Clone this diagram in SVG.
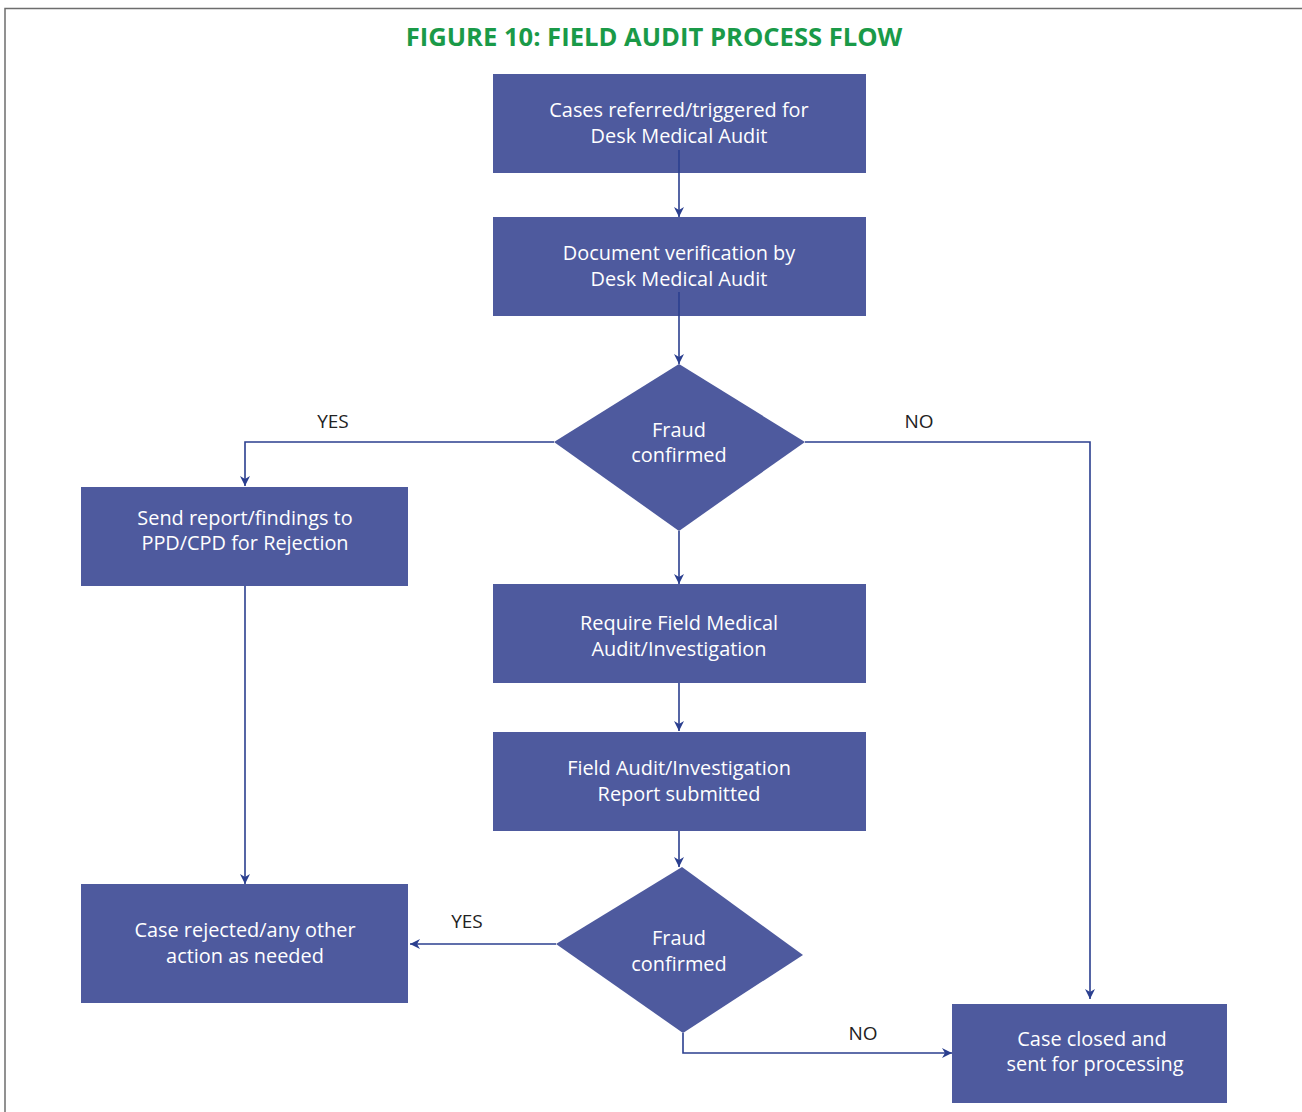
<svg xmlns="http://www.w3.org/2000/svg" width="1302" height="1112" viewBox="0 0 1302 1112">
  <style>
    .box { fill: #4e5a9e; }
    .lbl { font-family: "Open Sans", "Noto Sans", sans-serif; font-size: 19.9px; fill: #ffffff; text-anchor: middle; }
    .yn { font-family: "Open Sans", "Noto Sans", sans-serif; font-size: 19px; fill: #222222; text-anchor: middle; }
    .title { font-family: "Open Sans", "Noto Sans", sans-serif; font-size: 25.6px; font-weight: bold; fill: #1a9a48; text-anchor: middle; }
    .conn { fill: none; stroke: #2b3f8f; stroke-width: 1.6; }
  </style>
  <defs>
    <marker id="arrow" viewBox="0 0 10 10" refX="10" refY="5" markerWidth="10" markerHeight="10" markerUnits="userSpaceOnUse" orient="auto">
      <path d="M0,0 L10,5 L0,10 L3,5 z" fill="#2b3f8f"/>
    </marker>
  </defs>

  <rect width="1302" height="1112" fill="#ffffff"/>
  <!-- page frame -->
  <path d="M5,1112 V8.5 H1302" fill="none" stroke="#6d6d6d" stroke-width="1.5"/>

  <text class="title" x="654" y="46">FIGURE 10: FIELD AUDIT PROCESS FLOW</text>

  <g id="n1">
    <rect class="box" x="493" y="74" width="373" height="99"/>
    <text class="lbl" x="679" y="117">Cases referred/triggered for</text>
    <text class="lbl" x="679" y="143">Desk Medical Audit</text>
  </g>
  <g id="n2">
    <rect class="box" x="493" y="217" width="373" height="99"/>
    <text class="lbl" x="679" y="260">Document verification by</text>
    <text class="lbl" x="679" y="286">Desk Medical Audit</text>
  </g>
  <g id="d1">
    <polygon class="box" points="679,364 805,442 679,531 554,442"/>
    <text class="lbl" x="679" y="437">Fraud</text>
    <text class="lbl" x="679" y="462">confirmed</text>
  </g>
  <g id="n3">
    <rect class="box" x="81" y="487" width="327" height="99"/>
    <text class="lbl" x="245" y="525">Send report/findings to</text>
    <text class="lbl" x="245" y="550">PPD/CPD for Rejection</text>
  </g>
  <g id="n4">
    <rect class="box" x="493" y="584" width="373" height="99"/>
    <text class="lbl" x="679" y="630">Require Field Medical</text>
    <text class="lbl" x="679" y="656">Audit/Investigation</text>
  </g>
  <g id="n5">
    <rect class="box" x="493" y="732" width="373" height="99"/>
    <text class="lbl" x="679" y="775">Field Audit/Investigation</text>
    <text class="lbl" x="679" y="801">Report submitted</text>
  </g>
  <g id="d2">
    <polygon class="box" points="682,867 803,955 683,1033 556,944"/>
    <text class="lbl" x="679" y="945">Fraud</text>
    <text class="lbl" x="679" y="971">confirmed</text>
  </g>
  <g id="n6">
    <rect class="box" x="81" y="884" width="327" height="119"/>
    <text class="lbl" x="245" y="937">Case rejected/any other</text>
    <text class="lbl" x="245" y="963">action as needed</text>
  </g>
  <g id="n7">
    <rect class="box" x="952" y="1004" width="275" height="99"/>
    <text class="lbl" x="1092" y="1046">Case closed and</text>
    <text class="lbl" x="1095" y="1071">sent for processing</text>
  </g>

  <g id="connectors">
    <path class="conn" d="M679,150 V217" marker-end="url(#arrow)"/>
    <path class="conn" d="M679,292 V364" marker-end="url(#arrow)"/>
    <path class="conn" d="M554,442 H245 V486" marker-end="url(#arrow)"/>
    <path class="conn" d="M805,442 H1090 V999" marker-end="url(#arrow)"/>
    <path class="conn" d="M679,531 V584" marker-end="url(#arrow)"/>
    <path class="conn" d="M245,586 V884" marker-end="url(#arrow)"/>
    <path class="conn" d="M679,683 V731" marker-end="url(#arrow)"/>
    <path class="conn" d="M679,831 V867" marker-end="url(#arrow)"/>
    <path class="conn" d="M556,944 H410" marker-end="url(#arrow)"/>
    <path class="conn" d="M683,1033 V1053 H952" marker-end="url(#arrow)"/>
    <text class="yn" x="333" y="428">YES</text>
    <text class="yn" x="919" y="428">NO</text>
    <text class="yn" x="467" y="928">YES</text>
    <text class="yn" x="863" y="1040">NO</text>
  </g>
</svg>
